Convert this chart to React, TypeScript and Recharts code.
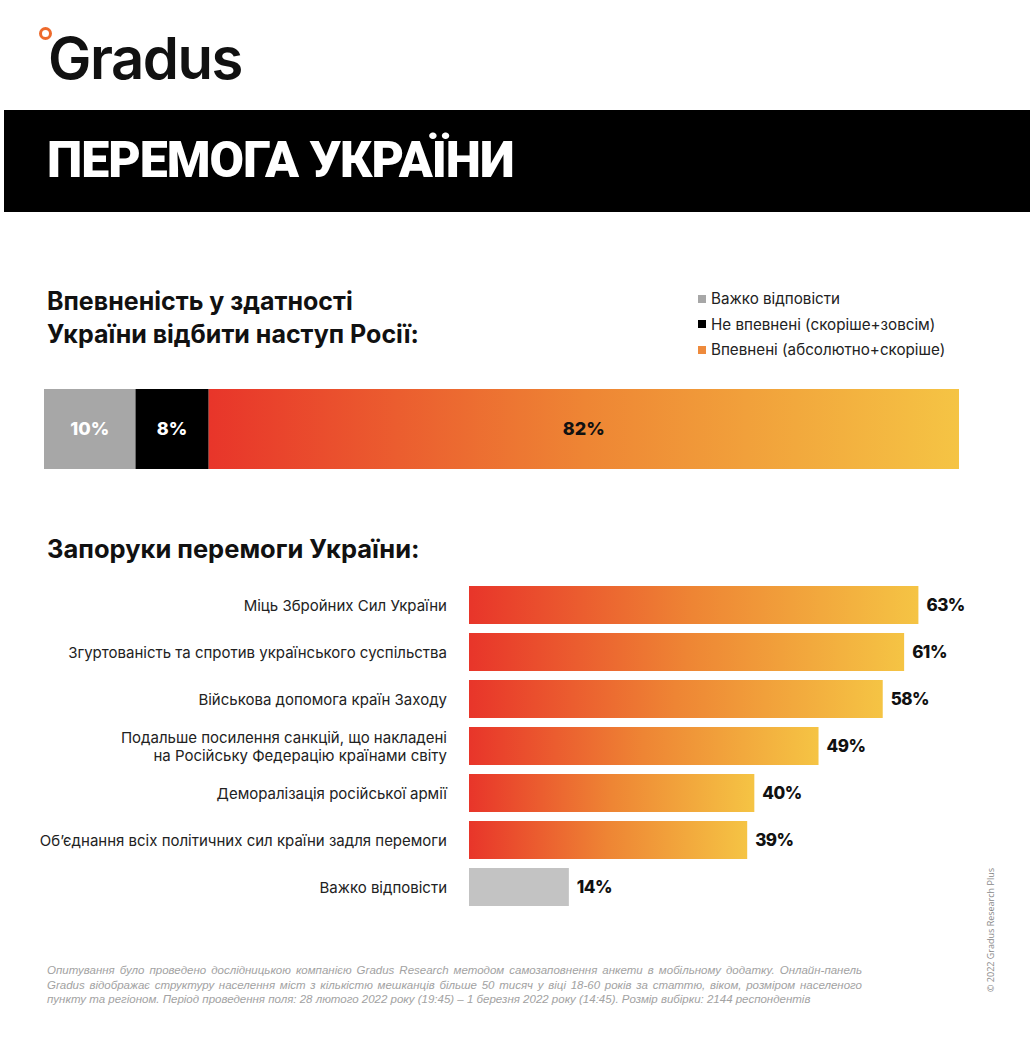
import React from 'react';
import { BarChart, Bar, XAxis, YAxis, Cell, LabelList } from 'recharts';

// --- data ---
const confidenceKeys = ['hard', 'no', 'yes'];
const confidenceLabels = ['Важко відповісти', 'Не впевнені (скоріше+зовсім)', 'Впевнені (абсолютно+скоріше)'];
const confidenceValues = [10, 8, 82];

const factorLabels = [
  'Міць Збройних Сил України',
  'Згуртованість та спротив українського суспільства',
  'Військова допомога країн Заходу',
  'Подальше посилення санкцій, що накладені\nна Російську Федерацію країнами світу',
  'Деморалізація російської армії',
  'Об’єднання всіх політичних сил країни задля перемоги',
  'Важко відповісти',
];
const factorValues = [63, 61, 58, 49, 40, 39, 14];

const footerLines = [
  'Опитування було проведено дослідницькою компанією Gradus Research методом самозаповнення анкети в мобільному додатку. Онлайн-панель',
  'Gradus відображає структуру населення міст з кількістю мешканців більше 50 тисяч у віці 18-60 років за статтю, віком, розміром населеного',
  'пункту та регіоном. Період проведення поля: 28 лютого 2022 року (19:45) – 1 березня 2022 року (14:45). Розмір вибірки: 2144 респондентів',
];

const FONT = 'Inter, "Noto Sans", sans-serif';
const GRAY_TOP = '#a7a7a7';
const GRAY_BAR = '#c3c3c3';
const legendColors = ['#a7a7a7', '#000000', '#ee8a3c'];

const topRow = [
  confidenceKeys.reduce((acc: any, k, i) => ({ ...acc, [k]: confidenceValues[i] }), { name: 'all' }),
];
const factorRows = factorLabels.map((label, i) => ({ label, value: factorValues[i] }));

const Gradient = ({ id }: { id: string }) => (
  <defs>
    <linearGradient id={id} x1="0" y1="0" x2="1" y2="0">
      <stop offset="0%" stopColor="#e8352a" />
      <stop offset="50%" stopColor="#ee8534" />
      <stop offset="100%" stopColor="#f5c444" />
    </linearGradient>
  </defs>
);

const CategoryTick = (props: any) => {
  const { x, y, payload } = props;
  const lines = String(payload.value).split('\n');
  const lh = 18;
  const start = y - ((lines.length - 1) * lh) / 2;
  return (
    <text x={x - 22} y={start} textAnchor="end" fill="#222" fontSize={15} fontFamily={FONT} dominantBaseline="central">
      {lines.map((l, i) => (
        <tspan key={i} x={x - 22} y={start + i * lh} dominantBaseline="central">
          {l}
        </tspan>
      ))}
    </text>
  );
};

const pct = (v: any) => `${v}%`;

export default function App() {
  return (
    <div style={{ position: 'absolute', left: 0, top: 0, width: 1030, height: 1038, background: '#fff', fontFamily: FONT, overflow: 'hidden' }}>
      {/* logo */}
      <div style={{ position: 'absolute', left: 39, top: 27, width: 7, height: 7, borderRadius: '50%', border: '3px solid #ee6a2c' }} />
      <div style={{ position: 'absolute', left: 48, top: 23, fontSize: 58, fontWeight: 600, color: '#111', letterSpacing: -1.5, lineHeight: '70px' }}>
        Gradus
      </div>

      {/* banner */}
      <div style={{ position: 'absolute', left: 4, top: 110, width: 1026, height: 102, background: '#000' }}>
        <div style={{ position: 'absolute', left: 43, top: 20, fontSize: 50, fontWeight: 900, color: '#fff', fontFamily: 'Roboto, sans-serif', letterSpacing: -1, lineHeight: '60px' }}>
          ПЕРЕМОГА УКРАЇНИ
        </div>
      </div>

      {/* section 1 */}
      <div style={{ position: 'absolute', left: 47, top: 285, fontSize: 25, fontWeight: 700, color: '#111', lineHeight: '33px' }}>
        Впевненість у здатності
        <br />
        України відбити наступ Росії:
      </div>
      <div style={{ position: 'absolute', left: 698, top: 286 }}>
        {confidenceLabels.map((l, i) => (
          <div key={l} style={{ display: 'flex', alignItems: 'center', height: 25.5, fontSize: 15.2, color: '#222' }}>
            <span style={{ width: 8, height: 8, background: legendColors[i], marginRight: 5 }} />
            {l}
          </div>
        ))}
      </div>
      <div style={{ position: 'absolute', left: 44, top: 389 }}>
        <BarChart width={915} height={80} data={topRow} layout="vertical" margin={{ top: 0, right: 0, bottom: 0, left: 0 }} barCategoryGap={0}>
          <Gradient id="gradTop" />
          <XAxis type="number" domain={[0, 100]} hide />
          <YAxis type="category" dataKey="name" hide />
          <Bar dataKey="hard" stackId="a" fill={GRAY_TOP} isAnimationActive={false}>
            <LabelList dataKey="hard" position="center" formatter={pct} fill="#fff" fontSize={18} fontWeight={800} fontFamily={FONT} />
          </Bar>
          <Bar dataKey="no" stackId="a" fill="#000" isAnimationActive={false}>
            <LabelList dataKey="no" position="center" formatter={pct} fill="#fff" fontSize={18} fontWeight={800} fontFamily={FONT} />
          </Bar>
          <Bar dataKey="yes" stackId="a" fill="url(#gradTop)" isAnimationActive={false}>
            <LabelList dataKey="yes" position="center" formatter={pct} fill="#111" fontSize={18} fontWeight={800} fontFamily={FONT} />
          </Bar>
        </BarChart>
      </div>

      {/* section 2 */}
      <div style={{ position: 'absolute', left: 47, top: 532, fontSize: 25.5, fontWeight: 700, color: '#111', lineHeight: '33px' }}>
        Запоруки перемоги України:
      </div>
      <div style={{ position: 'absolute', left: 0, top: 581 }}>
        <BarChart width={1030} height={329} data={factorRows} layout="vertical" margin={{ top: 0, right: 26, bottom: 0, left: 0 }} barCategoryGap={9}>
          <Gradient id="gradMain" />
          <XAxis type="number" domain={[0, 75]} hide />
          <YAxis type="category" dataKey="label" width={469} axisLine={false} tickLine={false} tickSize={0} tickMargin={0} interval={0} tick={<CategoryTick />} />
          <Bar dataKey="value" barSize={38} isAnimationActive={false}>
            {factorRows.map((r, i) => (
              <Cell key={i} fill={i === factorRows.length - 1 ? GRAY_BAR : 'url(#gradMain)'} />
            ))}
            <LabelList dataKey="value" position="right" offset={8} formatter={pct} fill="#111" fontSize={17} fontWeight={800} fontFamily={FONT} letterSpacing={-0.5} />
          </Bar>
        </BarChart>
      </div>

      {/* footer */}
      <div style={{ position: 'absolute', left: 47, top: 963, width: 815, fontSize: 11.5, fontStyle: 'italic', color: '#a2a2a2', lineHeight: '14.5px', fontFamily: '"Liberation Sans Narrow", "Liberation Sans", sans-serif' }}>
        {footerLines.map((l, i) => (
          <div key={i} style={{ textAlign: 'justify', textAlignLast: i < footerLines.length - 1 ? 'justify' : 'left', whiteSpace: 'nowrap' }}>
            {l}
          </div>
        ))}
      </div>
      <div style={{ position: 'absolute', left: 990, top: 930, transform: 'translate(-50%, -50%) rotate(-90deg)', whiteSpace: 'nowrap', fontSize: 9, color: '#888', fontFamily: '"Open Sans", sans-serif' }}>
        © 2022 Gradus Research Plus
      </div>
    </div>
  );
}
